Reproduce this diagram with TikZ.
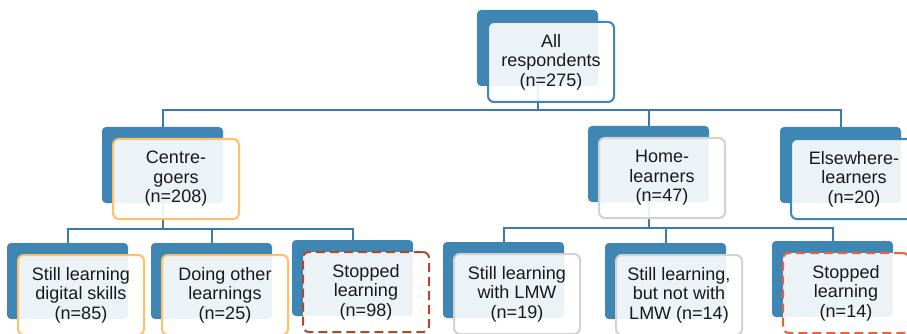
\documentclass[tikz,border=0pt]{standalone}
\usepackage{fontspec}
\setmainfont{Liberation Sans}
\usetikzlibrary{backgrounds}

\definecolor{backblue}{RGB}{64,134,180}
\definecolor{linkblue}{RGB}{58,124,168}
\definecolor{edgeorange}{RGB}{255,192,102}
\definecolor{edgegray}{RGB}{210,210,210}
\definecolor{edgerust}{RGB}{178,72,42}
\definecolor{edgecoral}{RGB}{232,98,58}

\begin{document}
\begin{tikzpicture}[x=1pt,y=-1pt,
  back/.style={fill=backblue, rounded corners=4pt, minimum width=121pt, minimum height=76pt, inner sep=0pt},
  front/.style={draw, line width=2pt, rounded corners=6pt, fill=white, fill opacity=0.9, text opacity=1,
    minimum width=126pt, minimum height=80pt, inner sep=0pt, align=center, text=black!90,
    font=\fontsize{18}{19.5}\selectfont},
  dashedge/.style={dash pattern=on 9pt off 5pt},
  link/.style={draw=linkblue, line width=2pt}]
\useasboundingbox (0,0) rectangle (907,334);
\clip (0,0) rectangle (907,334);

% top level
\node[back] (allB) at (537.5,48) {};
\node[front, draw=backblue] (all) at ([shift={(13.5,14)}]allB) {All\\respondents\\(n=275)};

% first level
\node[back] (cgB) at (162.5,165) {};
\node[front, draw=edgeorange] (cg) at ([shift={(13.5,14)}]cgB) {Centre-\\goers\\(n=208)};
\node[back] (hlB) at (648.5,164) {};
\node[front, draw=edgegray] (hl) at ([shift={(13.5,14)}]hlB) {Home-\\learners\\(n=47)};
\node[back] (elB) at (840.5,165) {};
\node[front, draw=backblue] (el) at ([shift={(13.5,14)}]elB) {Elsewhere-\\learners\\(n=20)};

% second level
\node[back] (s85B) at (67.5,281) {};
\node[front, draw=edgeorange] (s85) at ([shift={(13.5,14)}]s85B) {Still learning\\digital skills\\(n=85)};
\node[back] (o25B) at (211.5,281) {};
\node[front, draw=edgeorange] (o25) at ([shift={(13.5,14)}]o25B) {Doing other\\learnings\\(n=25)};
\node[back] (x98B) at (352.5,278) {};
\node[front, dashedge, draw=edgerust] (x98) at ([shift={(13.5,14)}]x98B) {Stopped\\learning\\(n=98)};
\node[back] (w19B) at (503.5,280) {};
\node[front, draw=edgegray] (w19) at ([shift={(13.5,14)}]w19B) {Still learning\\with LMW\\(n=19)};
\node[back] (n14B) at (665.5,281) {};
\node[front, draw=edgegray] (n14) at ([shift={(13.5,14)}]n14B) {Still learning,\\but not with\\LMW (n=14)};
\node[back] (x14B) at (832.5,279) {};
\node[front, dashedge, draw=edgecoral] (x14) at ([shift={(13.5,14)}]x14B) {Stopped\\learning\\(n=14)};

% connectors, behind the boxes
\coordinate (bus0) at (0,110);
\coordinate (busC) at (0,229);
\coordinate (busH) at (0,228);
\begin{scope}[on background layer]
\draw[link] (allB) -- (allB |- bus0) -| (cgB.north);
\draw[link] (allB |- bus0) -| (hlB.north);
\draw[link] (allB |- bus0) -| (elB.north);
\draw[link] (cgB) -- (cgB |- busC) -| (s85B.north);
\draw[link] (cgB |- busC) -| (o25B.north);
\draw[link] (cgB |- busC) -| (x98B.north);
\draw[link] (hlB) -- (hlB |- busH) -| (w19B.north);
\draw[link] (hlB |- busH) -| (n14B.north);
\draw[link] (hlB |- busH) -| (x14B.north);
\end{scope}
\end{tikzpicture}
\end{document}
